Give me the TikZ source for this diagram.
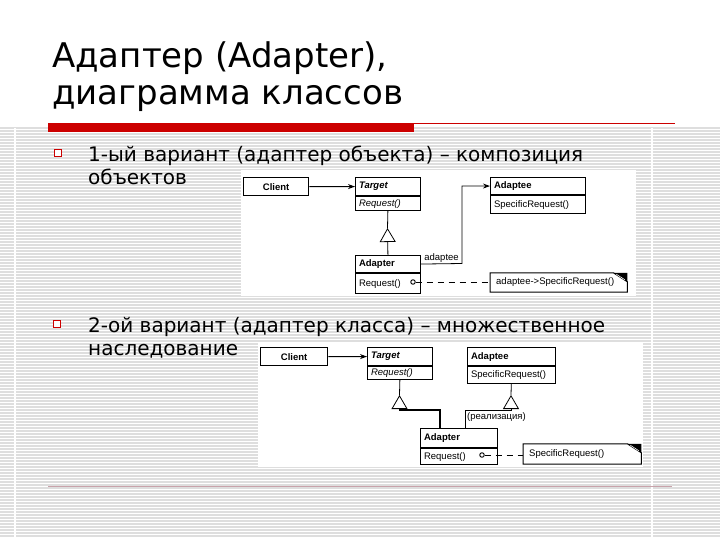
\documentclass[tikz,border=0pt]{standalone}
\usepackage{fontspec}
\setmainfont{DejaVu Sans}
\newfontfamily\umlfont{Liberation Sans}
\usetikzlibrary{arrows.meta,positioning,calc}
\definecolor{barc}{HTML}{CC0000}
\definecolor{stripec}{HTML}{DEDEDE}
\definecolor{pinkc}{HTML}{C8A2AA}
\newcommand{\umlsize}{\umlfont\fontsize{9.5}{10}\selectfont}
\tikzset{
  ttl/.style={anchor=base west, inner sep=0pt, font=\fontsize{34}{37}\selectfont},
  txt/.style={anchor=base west, inner sep=0pt, font=\fontsize{20}{23}\selectfont},
  bul/.style={draw=barc, fill=white, line width=1pt, minimum size=7pt, inner sep=0pt},
  clnt/.style={draw, line width=1.3pt, anchor=north west, inner sep=0pt, font=\umlsize\bfseries},
  cls/.style={draw, line width=1.1pt, anchor=north west, inner xsep=3.5pt, inner ysep=0pt, text width=#1, align=left, font=\umlsize\bfseries},
  ops/.style={draw, line width=1.1pt, inner xsep=3.5pt, inner ysep=0pt, text width=#1, align=left, font=\umlsize},
  notebox/.style={anchor=west, inner xsep=6pt, inner ysep=0pt, text width=#1, align=left, font=\umlsize},
  impl/.style={circle, draw, fill=white, line width=0.9pt, inner sep=0pt, minimum size=4.5pt},
  arr/.style={-{Stealth[length=7pt,width=5pt]}, line width=1.1pt},
  gen/.style={-{Triangle[open,length=14pt,width=16pt,line width=0.8pt]}, line width=0.8pt},
  dep/.style={dash pattern=on 6pt off 5pt, line width=0.8pt},
}
\newcommand{\dogear}[1]{%
  \draw[line width=1pt] (#1.north west) -- ([xshift=-14pt]#1.north east) -- ([yshift=-9pt]#1.north east)
    -- (#1.south east) -- (#1.south west) -- cycle;
  \fill ([xshift=-14pt]#1.north east) -- (#1.north east) -- ([yshift=-9pt]#1.north east) -- cycle;
  \draw[white, line width=0.6pt] ([xshift=-11pt,yshift=-1.5pt]#1.north east) -- ([xshift=-2.5pt,yshift=-7pt]#1.north east);}

\begin{document}
\begin{tikzpicture}[x=1pt, y=-1pt]
  \useasboundingbox (0,0) rectangle (720,540);
  \fill[white] (0,0) rectangle (720,540);
  % striped background
  \foreach \y in {128,131,...,538} \draw[stripec, line width=1.5pt] (0,\y) -- (720,\y);
  \draw[white, line width=1.5pt] (15,128) -- (15,540);
  \draw[white, line width=1.5pt] (652,128) -- (652,540);
  \draw[pinkc, line width=1pt] (48,486) -- (672,486);
  % title
  \node[ttl] (title1) at (52,68) {Адаптер (Adapter),};
  \node[ttl] (title2) at ([yshift=-37pt]title1.base west) {диаграмма классов};
  \fill[barc] (48,123) rectangle (414,132);
  \draw[barc, line width=1pt] (414,123.5) -- (675,123.5);
  % bullets
  \node[bul] (bul1) at (57.5,153.5) {};
  \node[txt] (item1) at (88,162) {1-ый вариант (адаптер объекта) – композиция};
  \node[txt] (item1b) at ([yshift=-23pt]item1.base west) {объектов};
  \node[bul] (bul2) at (57,323.5) {};
  \node[txt] (item2) at (88,332) {2-ой вариант (адаптер класса) – множественное};
  \node[txt] (item2b) at ([yshift=-23pt]item2.base west) {наследование};

  % variant 1: object adapter
  \fill[white] (241,170) rectangle (636,296);
  \node[clnt, minimum width=65, minimum height=18] (client1) at (243,177) {Client};
  \node[cls=58, minimum height=18] (target1) at (355,177) {\itshape Target};
  \node[ops=58, minimum height=14, below=0pt of target1] (target1ops) {\itshape Request()};
  \node[cls=88, minimum height=17] (adaptee1) at (490,177) {Adaptee};
  \node[ops=88, minimum height=18, below=0pt of adaptee1] (adaptee1ops) {SpecificRequest()};
  \node[cls=58, minimum height=17] (adapter1) at (355,255) {Adapter};
  \node[ops=58, minimum height=20, below=0pt of adapter1] (adapter1ops) {Request()};
  \node[notebox=125, minimum height=19] (note1) at (490,282.5) {adaptee->SpecificRequest()};
  \dogear{note1}
  \node[impl] (impl1) at (413,282) {};
  \coordinate (gen1) at (387.5,228);
  \coordinate (bend1) at (462,263.5);
  \draw[arr] (client1) -- (target1);
  \draw[gen] (adapter1) -- (gen1);
  \draw[line width=0.8pt] (gen1) -- (target1ops);
  \draw[arr, line width=0.8pt] (adapter1.east) -- node[above, inner sep=1pt, font=\umlsize] {adaptee} (bend1) |- (adaptee1.west);
  \draw[dep] (impl1) -- (note1.west |- impl1);

  % variant 2: class adapter
  \fill[white] (258,343) rectangle (643,467);
  \node[clnt, minimum width=67, minimum height=18] (client2) at (260,347) {Client};
  \node[cls=58, minimum height=18] (target2) at (367,347) {\itshape Target};
  \node[ops=58, minimum height=13, below=0pt of target2] (target2ops) {\itshape Request()};
  \node[cls=81, minimum height=18] (adaptee2) at (467,347) {Adaptee};
  \node[ops=81, minimum height=17, below=0pt of adaptee2] (adaptee2ops) {SpecificRequest()};
  \node[cls=70, minimum height=19] (adapter2) at (420,428) {Adapter};
  \node[ops=70, minimum height=16, below=0pt of adapter2] (adapter2ops) {Request()};
  \node[notebox=106, minimum height=20] (note2) at (523,454) {SpecificRequest()};
  \dogear{note2}
  \node[impl] (impl2) at (482,455) {};
  \coordinate (gen2) at (399.5,395);
  \coordinate (gen2base) at (399.5,410);
  \coordinate (gen3) at (511,395);
  \coordinate (gen3base) at (511,410);
  \draw[arr, line width=1pt] (client2) -- (target2);
  \draw[line width=0.8pt] (target2ops) -- (gen2);
  \draw[gen, line width=1.3pt] ([xshift=20pt]adapter2.north west) |- (gen2base) -- (gen2);
  \draw[line width=0.8pt] (adaptee2ops) -- (gen3);
  \draw[gen] ([xshift=45pt]adapter2.north west) |- (gen3base) -- (gen3);
  \node[anchor=west, inner sep=0pt, font=\umlsize] (impl2lbl) at (467,417.5) {(реализация)};
  \draw[dep] (impl2) -- (note2.west |- impl2);
\end{tikzpicture}
\end{document}
